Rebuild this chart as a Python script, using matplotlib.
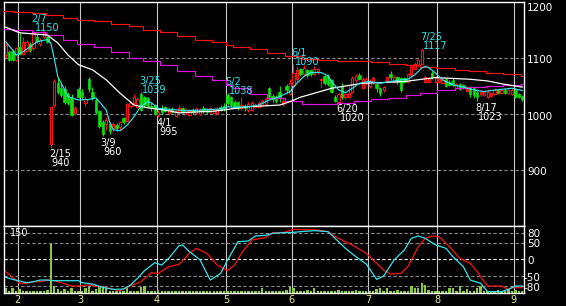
import numpy as np
import pandas as pd
import matplotlib
matplotlib.use('Agg')
import matplotlib.pyplot as plt
from matplotlib.transforms import Affine2D

# trading days (Tokyo, 2022)
holidays = ['2022-02-11', '2022-02-23', '2022-03-21', '2022-04-29', '2022-05-03',
            '2022-05-04', '2022-05-05', '2022-07-18', '2022-08-11']

# daily OHLC
opens = [1105, 1111, 1112, 1096,
         1120, 1108, 1112, 1125, 1118, 1138, 1125, 1138, 1138, 946, 1016, 1056, 1046, 1045, 1035, 1030, 1002, 1045,
         1040, 1020, 1062, 1040, 1025, 1005, 985, 982, 982, 975, 980, 976, 992, 988, 1015, 1020, 1012, 1036, 1030, 1028, 1015, 1016,
         998, 1010, 1012, 1001, 1009, 997, 1006, 1010, 1003, 999, 1008, 1002, 1000, 1011, 1008, 1004, 1002, 1001, 1012, 1015,
         1034, 1030, 1022, 1021, 1010, 1015, 1007, 1008, 1012, 1012, 1016, 1018, 1046, 1032, 1030, 1040, 1018, 1050, 1036,
         1052, 1062, 1080, 1072, 1078, 1078, 1072, 1076, 1060, 1068, 1068, 1060, 1030, 1022, 1050, 1030, 1030, 1040, 1060, 1070, 1046, 1056,
         1050, 1057, 1053, 1046, 1043, 1057, 1071, 1058, 1066, 1064, 1064, 1057, 1070, 1080, 1088, 1090, 1058, 1058, 1073, 1058,
         1058, 1056, 1062, 1058, 1060, 1047, 1054, 1052, 1041, 1048, 1046, 1040, 1035, 1034, 1030, 1033, 1036, 1042, 1038, 1043, 1037, 1036,
         1043, 1035, 1032]
highs = [1130, 1115, 1116, 1120,
         1145, 1138, 1132, 1128, 1150, 1142, 1136, 1148, 1140, 1015, 1062, 1065, 1055, 1050, 1040, 1035, 1015, 1048,
         1044, 1032, 1066, 1048, 1028, 1008, 990, 994, 985, 986, 984, 988, 995, 1020, 1024, 1035, 1030, 1039, 1033, 1030, 1020, 1018,
         1008, 1016, 1014, 1012, 1012, 1008, 1016, 1013, 1011, 1009, 1011, 1013, 1010, 1014, 1011, 1013, 1011, 1012, 1016, 1020,
         1038, 1032, 1025, 1023, 1030, 1018, 1022, 1024, 1019, 1023, 1027, 1030, 1048, 1036, 1034, 1050, 1030, 1053, 1062,
         1090, 1085, 1083, 1088, 1080, 1081, 1085, 1083, 1064, 1070, 1071, 1062, 1034, 1040, 1055, 1040, 1050, 1068, 1072, 1074, 1066, 1066,
         1062, 1068, 1056, 1048, 1050, 1068, 1077, 1070, 1068, 1066, 1066, 1073, 1090, 1093, 1098, 1117, 1070, 1066, 1077, 1068,
         1065, 1063, 1064, 1060, 1064, 1056, 1056, 1054, 1050, 1050, 1048, 1045, 1042, 1043, 1044, 1040, 1046, 1045, 1045, 1046, 1045, 1046,
         1046, 1037, 1034]
lows = [1100, 1094, 1094, 1094,
        1105, 1105, 1110, 1110, 1115, 1126, 1122, 1135, 1126, 940, 1012, 1036, 1030, 1018, 1016, 996, 998, 1028,
        1026, 1015, 1040, 1025, 1000, 975, 960, 972, 965, 970, 970, 972, 983, 985, 1010, 1016, 1010, 1005, 1012, 1012, 1006, 998,
        995, 1000, 1003, 998, 1001, 996, 1003, 1002, 1000, 997, 1000, 1000, 998, 1002, 1000, 1002, 1000, 999, 1005, 1006,
        1016, 1012, 1010, 1008, 1008, 1006, 1004, 1006, 1010, 1010, 1014, 1015, 1028, 1022, 1020, 1022, 1015, 1038, 1034,
        1048, 1058, 1068, 1068, 1066, 1068, 1070, 1072, 1048, 1052, 1050, 1038, 1021, 1020, 1026, 1027, 1028, 1038, 1058, 1060, 1044, 1052,
        1046, 1054, 1040, 1032, 1040, 1055, 1060, 1056, 1054, 1040, 1055, 1055, 1068, 1078, 1085, 1088, 1055, 1055, 1063, 1056,
        1055, 1053, 1048, 1050, 1050, 1045, 1043, 1044, 1039, 1030, 1028, 1023, 1033, 1032, 1028, 1031, 1034, 1036, 1036, 1036, 1035, 1034,
        1028, 1028, 1024]
closes = [1123, 1096, 1096, 1117,
          1108, 1128, 1128, 1115, 1145, 1130, 1133, 1145, 1128, 1012, 1059, 1040, 1034, 1022, 1020, 998, 1010, 1030,
          1030, 1027, 1044, 1028, 1003, 978, 965, 990, 970, 982, 975, 985, 986, 1018, 1020, 1030, 1026, 1008, 1016, 1015, 1010, 1000,
          1004, 1004, 1006, 1008, 1004, 1005, 1011, 1004, 1008, 1006, 1003, 1009, 1007, 1005, 1003, 1010, 1008, 1009, 1008, 1010,
          1020, 1016, 1012, 1011, 1016, 1010, 1018, 1020, 1016, 1020, 1024, 1026, 1031, 1026, 1024, 1028, 1024, 1042, 1056,
          1074, 1078, 1072, 1082, 1070, 1072, 1080, 1080, 1062, 1055, 1053, 1040, 1024, 1036, 1030, 1036, 1038, 1064, 1068, 1063, 1062, 1062,
          1058, 1064, 1046, 1038, 1048, 1066, 1066, 1066, 1057, 1043, 1058, 1071, 1088, 1090, 1096, 1115, 1066, 1063, 1066, 1064,
          1062, 1060, 1050, 1052, 1052, 1053, 1045, 1046, 1048, 1036, 1034, 1030, 1039, 1040, 1040, 1037, 1043, 1038, 1042, 1038, 1042, 1043,
          1030, 1030, 1026]
volumes = [11, 4, 11, 4,
           10, 4, 3, 4, 5, 3, 3, 4, 6, 122, 17, 8, 4, 8, 4, 11, 5, 3,
           4, 11, 14, 4, 9, 17, 16, 11, 4, 3, 3, 4, 3, 11, 4, 3, 5, 14, 17, 4, 3, 5,
           7, 3, 4, 3, 3, 4, 3, 5, 3, 3, 4, 3, 5, 3, 3, 4, 3, 4, 3, 5,
           5, 4, 3, 3, 4, 3, 5, 3, 3, 4, 11, 4, 3, 3, 3, 5, 3, 6, 15,
           11, 5, 4, 3, 7, 3, 11, 4, 5, 4, 3, 4, 5, 6, 4, 3, 4, 5, 7, 4, 3, 4,
           3, 4, 9, 11, 4, 11, 4, 3, 7, 4, 3, 5, 17, 11, 11, 23, 20, 7, 3, 4,
           3, 4, 5, 11, 11, 4, 17, 4, 8, 4, 5, 11, 17, 4, 3, 4, 5, 7, 3, 4, 8, 4,
           7, 3, 4]

# moving averages (day index, price)
ma_short_day = [0, 2, 3, 5, 7, 9, 12, 13, 14, 15, 17, 18, 21, 24, 26, 27, 29, 30, 31, 33, 35, 37, 39, 41, 42, 44,
                48, 52, 56, 62, 64, 66, 70, 73, 76, 79, 82, 84, 86, 88, 91, 93, 94, 96, 98, 100, 102, 105, 108,
                111, 114, 116, 118, 120, 121, 122, 124, 126, 129, 132, 135, 138, 140, 143, 146, 149]
ma_short_val = [1129, 1114, 1105, 1111, 1120, 1129, 1133, 1127, 1099, 1067, 1043, 1031, 1025, 1026, 1029, 1022, 1007,
                985, 972, 970, 980, 995, 1014, 1022, 1020, 1010, 1008, 1006, 1007, 1009, 1013, 1012, 1013, 1016, 1025,
                1031, 1040, 1055, 1067, 1074, 1074, 1068, 1058, 1043, 1038, 1046, 1055, 1058, 1055, 1058, 1061, 1062,
                1070, 1082, 1085, 1083, 1073, 1061, 1052, 1048, 1043, 1040, 1042, 1044, 1046, 1042]
ma_mid_day = [0, 4, 12, 15, 18, 21, 25, 29, 33, 37, 41, 46, 50, 56, 60, 70, 79, 82, 85, 89, 94, 98, 103, 108,
              115, 120, 124, 134, 139, 143, 149]
ma_mid_val = [1155, 1145, 1141, 1127, 1105, 1088, 1079, 1061, 1037, 1016, 1011, 1007, 1002, 1004, 1005, 1013, 1016,
              1022, 1030, 1037, 1046, 1050, 1055, 1056, 1058, 1062, 1065, 1062, 1059, 1054, 1048]
# weekly averages, one value per week
ma_13w = [1152, 1150, 1147, 1141, 1133, 1125, 1119, 1110, 1100, 1094, 1087, 1077, 1068, 1060, 1051, 1046, 1036,
          1028, 1024, 1018, 1017, 1019, 1024, 1026, 1029, 1034, 1038, 1042, 1046, 1048, 1050, 1051, 1054]
ma_26w = [1184, 1183, 1181, 1176, 1172, 1168, 1166, 1161, 1157, 1150, 1146, 1139, 1133, 1129, 1123, 1120, 1116,
          1109, 1103, 1098, 1097, 1095, 1094, 1093, 1090, 1087, 1084, 1082, 1078, 1077, 1074, 1072, 1068]

# oscillator (day index, value)
osc_fast_day = [0, 2, 4, 6, 8, 10, 12, 14, 21, 22, 25, 28, 31, 34, 36, 38, 40, 43, 45, 47, 50, 51, 53, 56, 59, 62,
                64, 67, 70, 72, 75, 77, 80, 82, 85, 89, 93, 95, 98, 101, 104, 107, 109, 112, 115, 117, 119, 121,
                124, 127, 129, 132, 134, 137, 139, 143, 145, 147, 149]
osc_fast_val = [-54, -60, -65, -70, -67, -62, -62, -64, -64, -70, -74, -84, -90, -89, -77, -57, -34, -10, -17, 3,
                41, 43, 23, -1, -62, -42, -2, 53, 55, 70, 72, 78, 80, 80, 83, 86, 83, 63, 33, 8, -14, -60, -50,
                -2, 28, 63, 70, 63, 43, 33, 8, -22, -62, -72, -97, -97, -90, -80, -80]
osc_slow_day = [0, 2, 4, 6, 8, 10, 12, 14, 16, 19, 21, 24, 27, 30, 33, 36, 39, 42, 44, 47, 50, 53, 55, 58, 61, 64,
                66, 68, 71, 73, 75, 77, 80, 83, 90, 93, 95, 100, 104, 107, 109, 111, 114, 116, 119, 121, 123, 125,
                128, 131, 134, 136, 138, 139, 143, 145, 146, 149]
osc_slow_val = [-37, -54, -72, -72, -67, -67, -62, -64, -70, -80, -80, -77, -82, -87, -94, -80, -67, -40, -42, -22,
                -15, 18, 33, 18, -17, -34, -17, 18, 58, 62, 65, 80, 80, 90, 88, 83, 68, 43, 18, -12, -32, -44, -42,
                -22, 38, 63, 70, 68, 38, 3, -12, -37, -67, -80, -80, -90, -85, -85]

peak_dates = ['2022-02-07', '2022-03-25', '2022-05-02', '2022-06-01', '2022-07-25']
trough_dates = ['2022-02-15', '2022-03-09', '2022-04-01', '2022-06-20', '2022-08-17']

price_ticks = [900, 1000, 1100, 1200]
osc_ticks = [80, 50, 0, -50, -80]

dates = pd.bdate_range('2022-01-26', '2022-09-05')
dates = dates[~dates.isin(pd.to_datetime(holidays))]
n = len(dates)
x = np.arange(n)
o = np.array(opens)
h = np.array(highs)
l = np.array(lows)
c = np.array(closes)

month_start = np.where(np.diff(dates.month) != 0)[0] + 1
week_no = dates.to_period('W')
week_start = np.r_[0, np.where(week_no[1:] != week_no[:-1])[0] + 1]

BG = 'black'
RED = '#ff1010'
GREEN = '#10dd10'
CYAN = '#30e6f0'
MAG = '#e010e0'
GRID_V = '#c8c8c8'
GRID_H = '#8a8a8a'
DASH = (0, (3, 2))

fig = plt.figure(figsize=(5.66, 3.06), dpi=100, facecolor=BG)
W, H = 566.0, 306.0
ax = fig.add_axes([4 / W, (H - 226) / H, 520 / W, 224 / H], facecolor=BG)
ax2 = fig.add_axes([4 / W, (H - 292.7) / H, 520 / W, 66.7 / H], facecolor=BG)

for a in (ax, ax2):
    a.set_xlim(-0.5, n - 0.5)
    for s in a.spines.values():
        s.set_color('white')
        s.set_linewidth(1)
    for m in month_start:
        a.axvline(m - 0.5, color=GRID_V, lw=0.8, zorder=1)

# price panel
ax.set_ylim(800, 1200)
for y in price_ticks[:-1]:
    ax.axhline(y, color=GRID_H, lw=0.8, ls=DASH, zorder=1)

up = c >= o
ax.vlines(x[up], l[up], h[up], color=RED, lw=0.8, zorder=2)
ax.vlines(x[~up], l[~up], h[~up], color=GREEN, lw=0.8, zorder=2)
body = np.maximum(np.abs(c - o), 1)
ax.bar(x[up], body[up], bottom=np.minimum(o, c)[up], width=0.6,
       facecolor=BG, edgecolor=RED, linewidth=0.8, zorder=3)
ax.bar(x[~up], body[~up], bottom=np.minimum(o, c)[~up], width=0.7,
       facecolor=GREEN, edgecolor=GREEN, linewidth=0.5, zorder=3)

wk_x = np.r_[week_start, n] - 0.5
ax.step(wk_x, ma_26w + [ma_26w[-1]], where='post', color=RED, lw=0.85, zorder=4)
ax.step(wk_x, ma_13w + [ma_13w[-1]], where='post', color=MAG, lw=0.85, zorder=4)
ax.plot(ma_mid_day, ma_mid_val, color='white', lw=0.9, zorder=5)
ax.plot(ma_short_day, ma_short_val, color=CYAN, lw=0.85, zorder=5)

ax.set_xticks([])
ax.set_yticks([])
yax = ax.get_yaxis_transform()
for v in price_ticks:
    ax.annotate(str(v), (1, v), xycoords=yax, xytext=(3, -2.5 if v < 1200 else -1),
                textcoords='offset pixels', color='white', fontsize=7.5,
                ha='left', va='center' if v < 1200 else 'top', annotation_clip=False)

fs = 7
for d in peak_dates:
    i = dates.get_loc(pd.Timestamp(d))
    lab = f"{dates[i].month}/{dates[i].day}"
    ax.annotate(lab, (i, h[i]), xytext=(-2, 8), textcoords='offset pixels',
                color=CYAN, fontsize=fs, ha='left', va='baseline', zorder=6)
    ax.annotate(str(h[i]), (i, h[i]), xytext=(1, -1), textcoords='offset pixels',
                color=CYAN, fontsize=fs, ha='left', va='baseline', zorder=6)
for d in trough_dates:
    i = dates.get_loc(pd.Timestamp(d))
    lab = f"{dates[i].month}/{dates[i].day}"
    ax.annotate(lab, (i, l[i]), xytext=(-2, -1.5), textcoords='offset pixels',
                color='white', fontsize=fs, ha='left', va='top', zorder=6)
    ax.annotate(str(l[i]), (i, l[i]), xytext=(1, -10.5), textcoords='offset pixels',
                color='white', fontsize=fs, ha='left', va='top', zorder=6)

# lower panel: volume + oscillator
vol_top = 166.7
ax2.set_ylim(-100, 100)
for y in osc_ticks:
    ax2.axhline(y, color='white' if y == 0 else GRID_H, lw=0.8, ls=DASH, zorder=1)
vol_tr = Affine2D().scale(1, 200 / vol_top).translate(0, -100) + ax2.transData
ax2.bar(x, volumes, width=0.7, color='#8cc83c', transform=vol_tr, zorder=2)
ax2.text(0.012, 150, '150', transform=Affine2D().scale(1, 200 / vol_top).translate(0, -100)
         + ax2.get_yaxis_transform(), color='white', fontsize=7, va='center', ha='left', zorder=6)
ax2.plot(osc_slow_day, osc_slow_val, color=RED, lw=0.9, zorder=4)
ax2.plot(osc_fast_day, osc_fast_val, color=CYAN, lw=0.9, zorder=5)

ax2.set_yticks([])
yax2 = ax2.get_yaxis_transform()
for v in osc_ticks:
    ax2.annotate(str(v), (1, v), xycoords=yax2, xytext=(3 if v >= 0 else 0, -1.5),
                 textcoords='offset pixels', color='white', fontsize=7.5,
                 ha='left', va='center', annotation_clip=False)
ax2.set_xticks(month_start - 0.5)
ax2.set_xticklabels([str(dates[m].month) for m in month_start])
ax2.tick_params(axis='x', length=0, pad=2, colors='#f0ec8c', labelsize=7)

fig.savefig('out.png', dpi=100, facecolor=BG)
